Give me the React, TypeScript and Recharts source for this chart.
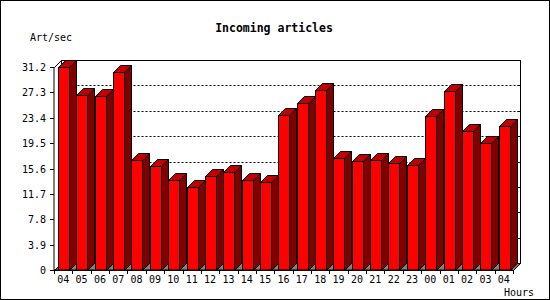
import { BarChart, Bar, XAxis, YAxis, CartesianGrid } from "recharts";

const hours = [
  "04", "05", "06", "07", "08", "09", "10", "11", "12", "13", "14", "15", "16",
  "17", "18", "19", "20", "21", "22", "23", "00", "01", "02", "03", "04",
];

const articlesPerSec = [
  31.2, 26.9, 26.7, 30.4, 16.9, 16.0, 13.8, 12.7, 14.4, 15.0, 13.8, 13.6, 23.8,
  25.6, 27.7, 17.2, 16.7, 16.9, 16.5, 16.1, 23.6, 27.5, 21.3, 19.5, 22.1,
];

const yTicks = [0, 3.9, 7.8, 11.7, 15.6, 19.5, 23.4, 27.3, 31.2];
const yTickLabels = ["0", "3.9", "7.8", "11.7", "15.6", "19.5", "23.4", "27.3", "31.2"];

const chartData = hours.map((hour, i) => ({ hour, rate: articlesPerSec[i] }));

const DEPTH = 7;
const FONT = "'DejaVu Sans Mono', 'Liberation Mono', monospace";

const px = (v: number) => Math.round(v) + 0.5;

// bar drawn as a box: front, top and right side
function Bar3D(props: any) {
  const { x, y, width, height } = props;
  if (height == null || width == null) return null;
  const l = px(x);
  const r = px(x + width);
  const t = px(y);
  const b = px(y + height);
  return (
    <g stroke="#000" strokeWidth={1}>
      <polygon
        points={`${r},${t} ${r + DEPTH},${t - DEPTH} ${r + DEPTH},${b - DEPTH} ${r},${b}`}
        fill="#800000"
      />
      <polygon
        points={`${l},${t} ${l + DEPTH},${t - DEPTH} ${r + DEPTH},${t - DEPTH} ${r},${t}`}
        fill="#c00000"
      />
      <rect x={l} y={t} width={r - l} height={b - t} fill="#ff0000" />
    </g>
  );
}

// grid lines sit on the back wall, shifted by the depth
function BackWallLine(props: any) {
  const { x1, x2, y1, index } = props;
  const top = props.y ?? 67;
  const bottom = top + (props.height ?? 203);
  const l = px(x1);
  const r = px(x2);
  const yy = px(y1);
  const isTop = Math.abs(y1 - top) < 0.6;
  const isBottom = Math.abs(y1 - bottom) < 0.6;
  const bt = px(top);
  const bb = px(bottom);
  return (
    <g key={`bw-${index}`}>
      {isBottom && (
        <g stroke="#000" strokeWidth={1}>
          <polygon
            points={`${l},${bb} ${l + DEPTH},${bb - DEPTH} ${r + DEPTH},${bb - DEPTH} ${r},${bb}`}
            fill="#808080"
          />
          <line x1={r + DEPTH} y1={bt - DEPTH} x2={r + DEPTH} y2={bb - DEPTH} />
          <line x1={l + DEPTH} y1={bt - DEPTH} x2={l + DEPTH} y2={bb - DEPTH} />
        </g>
      )}
      {isTop && (
        <g stroke="#000" strokeWidth={1}>
          <line x1={l + DEPTH} y1={bt - DEPTH} x2={r + DEPTH} y2={bt - DEPTH} />
          <line x1={l} y1={bt} x2={l + DEPTH} y2={bt - DEPTH} />
        </g>
      )}
      {!isTop && !isBottom && (
        <line
          x1={l + DEPTH}
          y1={yy - DEPTH}
          x2={r + DEPTH}
          y2={yy - DEPTH}
          stroke="#000"
          strokeWidth={1}
          strokeDasharray="2 2"
        />
      )}
      <line x1={r + DEPTH - 3} y1={yy - DEPTH} x2={r + DEPTH} y2={yy - DEPTH} stroke="#000" />
    </g>
  );
}

function HourTick(props: any) {
  const { x, y, payload, index } = props;
  const half = payload?.offset ?? 9.18;
  const last = index === hours.length - 1;
  return (
    <g>
      <line x1={px(x - half)} y1={y} x2={px(x - half)} y2={y + 4} stroke="#000" />
      {last && <line x1={px(x + half)} y1={y} x2={px(x + half)} y2={y + 4} stroke="#000" />}
      <text x={x} y={y + 13} textAnchor="middle" fontFamily={FONT} fontSize={10} fill="#000">
        {payload.value}
      </text>
    </g>
  );
}

function RateTick(props: any) {
  const { x, y, payload, index } = props;
  const label = yTickLabels[yTicks.indexOf(payload.value)] ?? String(payload.value);
  return (
    <g key={`yt-${index}`}>
      <line x1={x - 4} y1={px(y)} x2={x} y2={px(y)} stroke="#000" />
      <text x={x - 8} y={y + 4} textAnchor="end" fontFamily={FONT} fontSize={10} fill="#000">
        {label}
      </text>
    </g>
  );
}

export default function App() {
  return (
    <div style={{ position: "relative", width: 550, height: 300, background: "#fff" }}>
      <style>{"body{margin:0}"}</style>
      <BarChart
        width={550}
        height={300}
        data={chartData}
        margin={{ top: 67, right: 37, left: 8, bottom: 0 }}
        barSize={11}
      >
        <CartesianGrid vertical={false} horizontal={BackWallLine} />
        <XAxis
          dataKey="hour"
          height={30}
          tickLine={false}
          tickSize={0}
          tickMargin={0}
          interval={0}
          stroke="#000"
          tick={HourTick}
        />
        <YAxis
          width={46}
          domain={[0, 31.2]}
          ticks={yTicks}
          tickLine={false}
          tickSize={0}
          tickMargin={0}
          interval={0}
          stroke="#000"
          tick={RateTick}
        />
        <Bar dataKey="rate" shape={Bar3D} isAnimationActive={false} />
      </BarChart>
      <svg
        width={550}
        height={300}
        style={{ position: "absolute", left: 0, top: 0, pointerEvents: "none" }}
      >
        <rect x={0.5} y={0.5} width={549} height={299} fill="none" stroke="#000" />
        <text
          x={274}
          y={31.5}
          textAnchor="middle"
          fontFamily={FONT}
          fontSize={11.5}
          fontWeight="bold"
          fill="#000"
        >
          Incoming articles
        </text>
        <text x={30} y={41} fontFamily={FONT} fontSize={10} fill="#000">
          Art/sec
        </text>
        <text x={504} y={296} fontFamily={FONT} fontSize={10} fill="#000">
          Hours
        </text>
      </svg>
    </div>
  );
}
